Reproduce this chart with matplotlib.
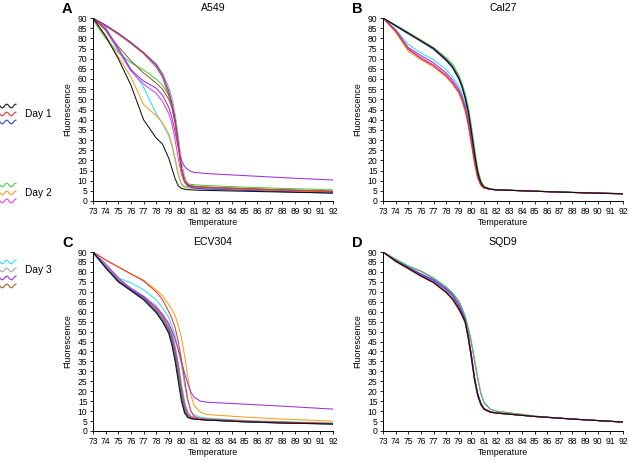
import matplotlib.pyplot as plt
import numpy as np

plt.rcParams['font.family'] = ['Liberation Sans', 'DejaVu Sans']

# temperature points the curves were read at
temps = [73, 74, 75, 76, 77, 78, 78.5, 79, 79.25, 79.5, 79.75, 80, 80.25, 80.5, 80.75, 81, 81.5, 82, 85, 88, 92]

colors = {'black': '#111111', 'red': '#e8352e', 'blue': '#3344dd',
          'green': '#44cc44', 'orange': '#f5a020', 'magenta': '#e040e8',
          'cyan': '#30e0f0', 'gray': '#a8a8a8', 'purple': '#9a30e0', 'brown': '#9a6030'}
draw_order = ['cyan', 'gray', 'orange', 'magenta', 'green', 'brown', 'purple', 'blue', 'red', 'black']

a549 = {
    'red':     [90, 86, 82, 77.5, 72.5, 66, 61, 52, 46, 38, 27, 16, 10, 8, 7.5, 7.2, 6.9, 6.7, 6.0, 5.4, 4.6],
    'blue':    [90, 86.5, 82.5, 78, 73, 67, 62, 54, 48, 40, 28, 16, 10, 7.5, 6.8, 6.4, 6.1, 5.9, 5.2, 4.6, 3.9],
    'gray':    [90, 86.5, 82.5, 78, 73, 67.5, 63, 56, 51, 43, 32, 20, 12, 8.5, 7.5, 7.2, 7.0, 6.8, 6.1, 5.5, 4.8],
    'purple':  [90, 85, 75, 64.5, 59, 55.5, 52, 46, 41, 34, 26, 20, 17, 15.5, 14.6, 14.1, 13.8, 13.5, 12.5, 11.5, 10.3],
    'brown':   [90, 84, 76, 69, 63, 58, 55, 50, 46, 39, 28, 16, 10, 8, 7.5, 7.2, 7.0, 6.8, 6.1, 5.5, 4.8],
    'magenta': [90, 84, 74, 64, 57.5, 53, 49, 43, 38, 30, 21, 13, 9, 7.5, 7.2, 7.0, 6.8, 6.6, 6.0, 5.4, 4.8],
    'green':   [89, 80, 73, 68, 64.5, 60, 57, 52, 47, 40, 28, 15, 9.5, 8.5, 8.2, 8.0, 7.8, 7.6, 6.8, 6.2, 5.5],
    'cyan':    [90, 85, 75, 65, 56, 43, 38, 32, 27, 20, 13, 8.5, 7.2, 7.0, 6.8, 6.6, 6.4, 6.3, 5.7, 5.2, 4.6],
    'orange':  [90, 81.5, 71, 61, 47.5, 42, 38.5, 33, 28, 21, 13, 8, 6.8, 6.5, 6.3, 6.2, 6.0, 5.9, 5.4, 5.0, 4.5],
    'black':   [90, 81, 70, 57, 40, 31, 28, 21, 16, 11, 7.5, 6.2, 5.8, 5.6, 5.5, 5.4, 5.3, 5.2, 4.8, 4.4, 3.9],
}

cal27 = {
    'black':   [90, 86.3, 82.5, 78.8, 75, 69.5, 66, 60.5, 56.5, 51, 44, 34, 23, 14, 9, 6.8, 5.8, 5.5, 4.8, 4.2, 3.5],
    'green':   [90, 86.5, 83, 79.2, 75.5, 70.5, 67.5, 62, 58, 53, 46.5, 37, 26, 16, 10, 7.2, 6, 5.6, 4.9, 4.3, 3.6],
    'brown':   [90, 86.3, 82.6, 78.9, 75.2, 69.8, 66.3, 60.8, 56.8, 51.5, 44.5, 34.5, 23.5, 14, 9, 6.8, 5.8, 5.5, 4.8, 4.2, 3.5],
    'blue':    [90, 86, 82.2, 78.5, 74.6, 69, 65.5, 60, 56, 50.5, 43, 33, 22, 13, 8.5, 6.7, 5.8, 5.5, 4.8, 4.2, 3.5],
    'gray':    [90, 86.2, 82.4, 78.7, 74.8, 69.3, 65.8, 60.3, 56.3, 50.8, 43.5, 33.5, 22.5, 13.5, 8.8, 6.8, 5.8, 5.5, 4.8, 4.2, 3.5],
    'cyan':    [90, 84.5, 77, 72.8, 69.5, 64.6, 61, 56.5, 53, 48, 41, 31, 21, 12.5, 8.3, 6.6, 5.8, 5.5, 4.8, 4.2, 3.6],
    'purple':  [90, 84, 75.5, 71.5, 68, 63, 59.5, 55, 51.5, 46.5, 39.5, 30, 20, 12, 8, 6.5, 5.7, 5.5, 4.8, 4.2, 3.6],
    'magenta': [90, 84, 75, 70.5, 67, 62, 58.5, 54, 50.5, 45.5, 38.5, 29, 19.5, 11.5, 8, 6.5, 5.7, 5.5, 4.8, 4.2, 3.6],
    'red':     [90, 83.5, 74.5, 70, 66.5, 61.5, 58, 53.5, 50, 45, 38, 28.5, 19, 11.5, 7.8, 6.4, 5.7, 5.5, 4.8, 4.2, 3.6],
    'orange':  [90, 83, 73.6, 69.5, 66, 61, 57.5, 53, 49, 44, 37, 27.5, 18, 11, 7.5, 6.3, 5.7, 5.5, 4.8, 4.2, 3.6],
}

ecv304 = {
    'red':     [90, 86, 82.5, 79, 75.5, 70, 66, 60, 56.5, 52, 45, 36, 26, 16, 10, 7.3, 6.3, 6, 5, 4.5, 3.8],
    'orange':  [90, 86, 82.5, 79, 75.8, 71, 68, 63.6, 61, 58, 53, 47, 38, 27.5, 18, 13, 9.5, 8.3, 7, 6, 5],
    'cyan':    [89, 82.5, 77, 74.5, 71, 66, 62, 57, 53, 48, 41, 33, 23, 15, 10, 8, 7, 6.5, 5.3, 4.7, 4],
    'purple':  [90, 84, 77, 71.5, 67.5, 62, 58.5, 54, 50.5, 46, 41, 35, 29, 24, 19.5, 17, 15, 14.5, 13.5, 12.5, 11],
    'black':   [90, 82, 75, 70.5, 66, 59.5, 55, 49, 43, 35, 25, 15, 9, 6.8, 6.2, 6, 5.7, 5.5, 4.6, 4, 3.5],
    'green':   [90, 82.5, 75.5, 71, 66.5, 60.5, 56, 50.5, 45.5, 38.5, 29, 19, 11, 7.5, 6.5, 6.1, 5.8, 5.5, 4.6, 4.1, 3.6],
    'magenta': [90, 83, 76, 71.5, 67.5, 62, 58, 52.5, 48, 41.5, 33, 22, 13.5, 9, 7.2, 6.5, 6, 5.7, 4.8, 4.2, 3.7],
    'blue':    [90, 82.3, 75.2, 70.8, 66.3, 60, 55.5, 50, 44.5, 37, 27, 17, 10, 7, 6.3, 6, 5.7, 5.5, 4.6, 4, 3.5],
    'gray':    [90, 82.8, 76, 72, 68, 63, 59, 54, 49.5, 43, 34.5, 24, 15, 9.5, 7.5, 6.7, 6.2, 5.9, 4.9, 4.3, 3.8],
    'brown':   [90, 82.5, 75.5, 71, 67, 61, 57, 51.5, 47, 40, 31, 20.5, 12, 8, 6.8, 6.3, 5.9, 5.6, 4.7, 4.1, 3.6],
}

sqd9 = {
    'black':   [90, 85.4, 81.8, 78, 74.7, 69.8, 66.5, 61.6, 58.5, 55, 47, 37, 26, 18, 13.5, 11, 9.5, 9, 7.3, 6, 4.5],
    'red':     [90, 85.2, 81.5, 77.8, 74.5, 69.5, 66, 61, 58, 54.5, 46.5, 36, 25, 17.5, 13, 10.8, 9.4, 9, 7.3, 6, 4.5],
    'blue':    [90, 85.8, 82.3, 79, 76, 71.5, 68.5, 63.5, 60, 56, 48.5, 38.5, 27, 19, 14, 11.3, 9.7, 9.1, 7.3, 6, 4.5],
    'purple':  [90, 85.6, 82, 78.7, 75.6, 71, 68, 63, 59.5, 55.5, 48, 38, 26.5, 18.5, 13.8, 11.2, 9.6, 9.1, 7.3, 6, 4.5],
    'green':   [90, 86.5, 83, 80.5, 77, 72.5, 69.5, 65.5, 62, 58, 52, 45, 36, 27, 19, 14.5, 11, 10, 7.5, 6, 4.5],
    'magenta': [90, 86.3, 82.8, 80.2, 76.7, 72.2, 69.2, 65, 61.5, 57.5, 51.5, 44, 35, 26, 18.5, 14.2, 10.9, 9.9, 7.5, 6, 4.5],
    'orange':  [90, 85.3, 81.6, 77.9, 74.6, 69.6, 66.2, 61.2, 58.2, 54.7, 46.7, 36.5, 25.5, 17.8, 13.2, 10.9, 9.4, 9, 7.3, 6, 4.5],
    'cyan':    [90, 85.4, 81.7, 78, 74.7, 69.7, 66.4, 61.4, 58.4, 54.9, 46.9, 36.8, 25.8, 17.9, 13.4, 11, 9.5, 9, 7.3, 6, 4.5],
    'gray':    [90, 85.5, 81.9, 78.2, 74.9, 70, 66.8, 61.8, 58.7, 55.2, 47.3, 37.3, 26.3, 18.2, 13.6, 11.1, 9.5, 9, 7.3, 6, 4.5],
    'brown':   [90, 85.4, 81.8, 78.1, 74.8, 69.9, 66.6, 61.7, 58.6, 55.1, 47.1, 37.1, 26.1, 18.1, 13.5, 11, 9.5, 9, 7.3, 6, 4.5],
}

panels = [('A', 'A549', a549), ('B', 'Cal27', cal27), ('C', 'ECV304', ecv304), ('D', 'SQD9', sqd9)]

days = ['Day 1', 'Day 2', 'Day 3']
day_colors = [['black', 'red', 'blue'], ['green', 'orange', 'magenta'], ['cyan', 'gray', 'purple', 'brown']]

W, H = 629, 463
fig = plt.figure(figsize=(W / 100, H / 100), dpi=100)

# axes boxes in pixels: left, y of the 90 line, y of the 0 line
boxes = [(93, 18, 201), (383, 18, 201), (93, 252, 431), (383, 252, 431)]
ax_w = 240

for (letter, title, data), (left, top, bottom) in zip(panels, boxes):
    ax = fig.add_axes([left / W, 1 - bottom / H, ax_w / W, (bottom - top) / H])
    for name in draw_order:
        ax.plot(temps, data[name], color=colors[name], lw=0.75)
    ax.set_xlim(73, 92)
    ax.set_ylim(0, 90)
    ax.set_xticks(range(73, 93))
    ax.set_yticks(range(0, 91, 5))
    ax.spines['top'].set_visible(False)
    ax.spines['right'].set_visible(False)
    for s in ['left', 'bottom']:
        ax.spines[s].set_linewidth(0.7)
    ax.tick_params(labelsize=6.2, length=2.5, width=0.6, pad=1.5)
    ax.set_xlabel('Temperature', fontsize=6.4)
    ax.set_ylabel('Fluorescence', fontsize=6.4)
    ax.xaxis.set_label_coords(0.5, -17 / (bottom - top))
    ax.yaxis.set_label_coords(-21 / ax_w, 0.5)
    fig.text((left + ax_w / 2) / W, 1 - (top - 10) / H, title, fontsize=7.6,
             ha='center', va='center')
    fig.text((left - 31) / W, 1 - (top - 9) / H, letter, fontsize=10.5,
             fontweight='bold', ha='left', va='center')

# day legend on the left
leg = fig.add_axes([0, 0, 1, 1])
leg.set_xlim(0, W)
leg.set_ylim(H, 0)
leg.axis('off')
wave_x = np.linspace(0, 16, 60)
wave = 1.8 * np.sin(2 * np.pi * wave_x / 9)
day_tops = [106, 185, 262]
for day, cols, y0 in zip(days, day_colors, day_tops):
    for i, name in enumerate(cols):
        leg.plot(wave_x, y0 + 8 * i + wave, color=colors[name], lw=0.8)
    leg.text(25, y0 + 8, day, fontsize=7.3, ha='left', va='center')

fig.savefig('out.png', dpi=100)
